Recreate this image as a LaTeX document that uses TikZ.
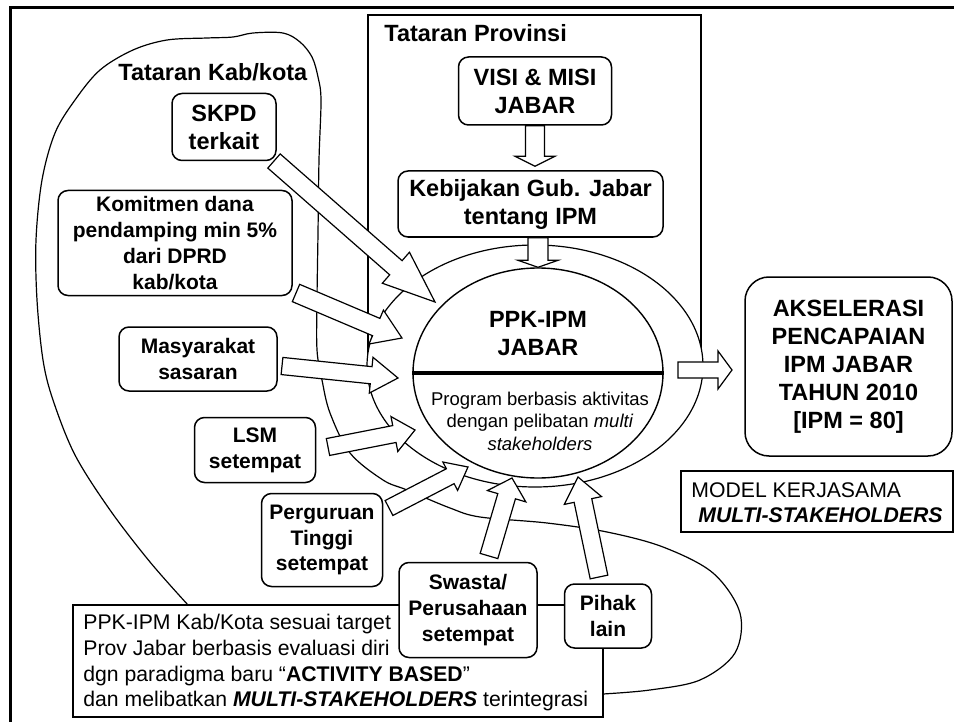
\documentclass[tikz,border=0pt]{standalone}
\usepackage{fontspec}
\setmainfont{Liberation Sans}
\usetikzlibrary{calc,shapes.geometric}
\newcommand\bigb{\fontsize{11.75}{14}\selectfont\bfseries}
\newcommand\midb{\fontsize{10.5}{12.9}\selectfont\bfseries}
\newcommand\regf{\fontsize{10.6}{12.8}\selectfont}
\newcommand\smallf{\fontsize{9.25}{11.25}\selectfont}
% #1 tail, #2 tip, #3 shaft half width, #4 head half width, #5 head length
\newcommand\blockarrow[5]{%
  \draw[blockarr] ($(#1)!#3!90:(#2)$) -- ($(#2)!#5!(#1)!#3!-90:(#1)$) -- ($(#2)!#5!(#1)!#4!-90:(#1)$) -- (#2) -- ($(#2)!#5!(#1)!#4!90:(#1)$) -- ($(#2)!#5!(#1)!#3!90:(#1)$) -- ($(#1)!#3!-90:(#2)$) -- cycle;}
\begin{document}
\begin{tikzpicture}[x=0.5pt,y=-0.5pt,
  box/.style={draw, fill=white, rounded corners=5pt, line width=0.75pt, align=center, inner sep=0pt},
  blockarr/.style={draw, fill=white, line width=0.6pt, line join=miter},
  curveline/.style={line width=0.6pt},
  plainbox/.style={draw, line width=0.7pt},
  txt/.style={inner sep=0pt, anchor=base west}]
\useasboundingbox (0,0) rectangle (954,722);
% outer frame
\draw[line width=1.5pt] (10,722) -- (10,8) -- (954,8);
% Tataran Kab/kota region
\draw[curveline] plot[smooth, tension=0.55] coordinates {
 (188,605) (150,562) (110,510) (75,455) (53,400) (43,360) (37,300) (36,240) (42,180) (55,133)
 (75,100) (100,70) (133,50) (167,40) (207,38) (233,37) (253,33) (283,33) (300,42) (312,57)
 (318,77) (321,100) (319,160) (318,233) (317,300) (317,350) (322,380) (330,413) (350,453)
 (383,480) (407,490) (450,508) (480,517) (547,523) (607,532) (663,547) (713,573) (740,613)
 (735,653) (700,680) (650,690) (603,694)};
% Tataran Provinsi region
\draw[plainbox] (368,15) rectangle (701,366);
% bottom text box
\draw[plainbox, fill=white] (73,605) rectangle (603,717);
% model box
\draw[plainbox] (681,471) rectangle (953,532);
% ring and centre ellipse
\node (ring) [ellipse, draw, fill=white, line width=0.6pt, minimum width=168pt, minimum height=121pt, inner sep=0pt] at (535,366) {};
\node (ppk) [ellipse, draw, fill=white, line width=0.7pt, minimum width=125pt, minimum height=105pt, inner sep=0pt] at (538,373) {};
\draw[line width=1.8pt] (ppk.west) -- (ppk.east);
\node (ppkt) [font=\bigb, align=center] at (538,334) {PPK-IPM\\JABAR};
\node (ppks) [font=\smallf, align=center] at (540,421) {Program berbasis aktivitas\\dengan pelibatan \textit{multi}\\\textit{stakeholders}};
% labels
\node (kablbl) [txt, font=\bigb] at (118,81) {Tataran Kab/kota};
\node (provlbl) [txt, font=\bigb] at (384,42) {Tataran Provinsi};
% boxes
\node (skpd) [box, font=\bigb, minimum width=52pt, minimum height=33.5pt] at (224,127) {SKPD\\terkait};
\node (komit) [box, font=\midb, minimum width=117pt, minimum height=52.5pt] at (175,243) {Komitmen dana\\pendamping min 5\%\\dari DPRD\\kab/kota};
\node (masy) [box, font=\midb, minimum width=79pt, minimum height=32pt] at (198,359) {Masyarakat\\sasaran};
\node (lsm) [box, font=\midb, minimum width=60.5pt, minimum height=32.5pt] at (255,450) {LSM\\setempat};
\node (pt) [box, font=\midb, minimum width=60.5pt, minimum height=46.5pt] at (322,540) {Perguruan\\Tinggi\\setempat};
\node (swasta) [box, font=\midb, minimum width=69pt, minimum height=47.5pt] at (468,610) {Swasta/\\Perusahaan\\setempat};
\node (pihak) [box, font=\midb, minimum width=43.5pt, minimum height=32pt] at (608,616) {Pihak\\lain};
\node (visi) [box, font=\bigb, minimum width=76.5pt, minimum height=34pt] at (535,91) {VISI \& MISI\\JABAR};
\node (keb) [box, font=\bigb, minimum width=132.5pt, minimum height=33pt] at (530.5,204) {Kebijakan Gub. Jabar\\tentang IPM};
\node (aksel) [box, rounded corners=12pt, font=\bigb, minimum width=103.5pt, minimum height=89.5pt] at (848.5,366.5) {AKSELERASI\\PENCAPAIAN\\IPM JABAR\\TAHUN 2010\\{[IPM = 80]}};
% texts
\node (model1) [txt, font=\regf] at (691,497) {MODEL KERJASAMA};
\node (model2) [txt, font=\regf] at (698,522) {\textbf{\textit{MULTI-STAKEHOLDERS}}};
\node (b1) [txt, font=\regf] at (83,629) {PPK-IPM Kab/Kota sesuai target};
\node (b2) [txt, font=\regf] at (83,655) {Prov Jabar berbasis evaluasi diri};
\node (b3) [txt, font=\regf] at (83,681) {dgn paradigma baru “\textbf{ACTIVITY BASED}”};
\node (b4) [txt, font=\regf] at (83,706) {dan melibatkan \textbf{\textit{MULTI-STAKEHOLDERS}} terintegrasi};
% arrow end points
\coordinate (a1t) at (274,161); \coordinate (a1h) at (435,302);
\coordinate (a2t) at (296,293); \coordinate (a2h) at (402,338);
\coordinate (a3t) at (282,366); \coordinate (a3h) at (398,378);
\coordinate (a4t) at (328,447); \coordinate (a4h) at (415,430);
\coordinate (a5t) at (389,508); \coordinate (a5h) at (468,467);
\coordinate (a6t) at (489,556); \coordinate (a6h) at (512,478);
\coordinate (a7t) at (599,577); \coordinate (a7h) at (578,477);
\coordinate (a8t) at (678,370); \coordinate (a8h) at (732,370);
\coordinate (a9t) at (visi.south); \coordinate (a9h) at ($(visi.south |- keb.north)+(0,-4)$);
\coordinate (a10t) at (ppk.north |- keb.south); \coordinate (a10h) at (ppk.north);
% block arrows
\blockarrow{a1t}{a1h}{4.7pt}{10.3pt}{26pt}
\blockarrow{a2t}{a2h}{4.7pt}{9.2pt}{14pt}
\blockarrow{a3t}{a3h}{4.3pt}{9pt}{13.5pt}
\blockarrow{a4t}{a4h}{4.3pt}{8.9pt}{10.5pt}
\blockarrow{a5t}{a5h}{4.2pt}{8pt}{10pt}
\blockarrow{a6t}{a6h}{4.6pt}{10pt}{9.5pt}
\blockarrow{a7t}{a7h}{4.5pt}{9.5pt}{12pt}
\blockarrow{a8t}{a8h}{4pt}{9.5pt}{7pt}
\blockarrow{a9t}{a9h}{4.75pt}{10pt}{5pt}
\blockarrow{a10t}{a10h}{5pt}{10pt}{3.5pt}
\end{tikzpicture}
\end{document}
